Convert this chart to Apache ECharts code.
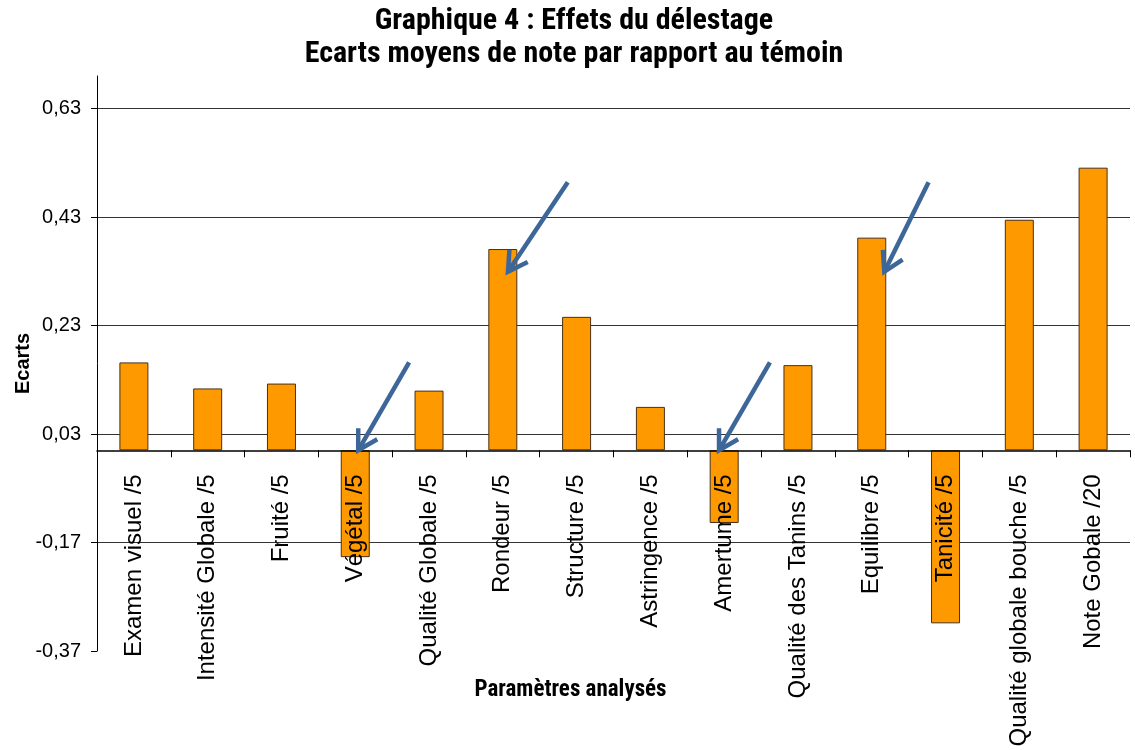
<!DOCTYPE html>
<html>
<head>
<meta charset="utf-8">
<script src="https://cdn.jsdelivr.net/npm/echarts@6/dist/echarts.min.js"></script>
<style>
html,body{margin:0;padding:0;background:#fff;}
#chart{width:1135px;height:750px;}
</style>
</head>
<body>
<div id="chart"></div>
<script>
const titleLines = ['Graphique 4 : Effets du délestage', 'Ecarts moyens de note par rapport au témoin'];
const yAxisName = 'Ecarts';
const xAxisName = 'Paramètres analysés';
const categories = ['Examen visuel /5', 'Intensité Globale /5', 'Fruité /5', 'Végétal /5', 'Qualité Globale /5',
  'Rondeur /5', 'Structure /5', 'Astringence /5', 'Amertume /5', 'Qualité des Tanins /5', 'Equilibre /5',
  'Tanicité /5', 'Qualité globale bouche /5', 'Note Gobale /20'];
const ecarts = [0.162, 0.114, 0.123, -0.197, 0.110, 0.371, 0.246, 0.080, -0.134, 0.157, 0.392, -0.319, 0.425, 0.521];
const yTicks = [-0.37, -0.17, 0.03, 0.23, 0.43, 0.63];
const yMax = 0.69;
// annotation arrows: [categoryPosition, value] for tail and tip
const arrowTails = [[5.88, 0.494], [10.77, 0.494], [3.73, 0.162], [8.62, 0.162]];
const arrowTips = [[5.07, 0.329], [10.17, 0.329], [3.04, 0.0], [7.93, 0.0]];

const arrowData = arrowTails.map((t, i) => [t[0], t[1], arrowTips[i][0], arrowTips[i][1]]);
const fmt = v => (Math.round(v * 100) / 100).toFixed(2).replace('.', ',');

const gridTop = 76, gridBottom = 99, H = 750;
const gridH = H - gridTop - gridBottom;
const yMin = yTicks[0];
// move the category axis up from the grid bottom to the zero line
const zeroOffset = -gridH * (0 - yMin) / (yMax - yMin);

const chart = echarts.init(document.getElementById('chart'));
const arrowColor = '#3D6699';
chart.setOption({
  animation: false,
  backgroundColor: '#ffffff',
  title: {
    text: titleLines.join('\n'),
    left: 569, top: 0, textAlign: 'center',
    textStyle: {
      fontFamily: '"Liberation Sans Narrow", "Roboto Condensed", "Arial Narrow", sans-serif',
      fontWeight: 'bold', fontSize: 30, lineHeight: 33, color: '#000'
    }
  },
  grid: { left: 97, right: 5, top: gridTop, bottom: gridBottom, containLabel: false, outerBoundsMode: 'none' },
  xAxis: [{
    type: 'category',
    data: categories,
    z: 3,
    offset: zeroOffset,
    name: xAxisName,
    nameLocation: 'middle',
    nameGap: 228,
    nameMoveOverlap: false,
    nameTextStyle: {
      fontFamily: '"Liberation Sans Narrow", "Roboto Condensed", "Arial Narrow", sans-serif',
      fontWeight: 'bold', fontSize: 23, color: '#000', padding: [0, 86, 0, 0]
    },
    axisLine: { onZero: false, lineStyle: { color: '#000', width: 1.5 } },
    axisTick: { show: true, length: 7, lineStyle: { color: '#000' } },
    axisLabel: {
      rotate: 90, interval: 0, margin: 24,
      fontFamily: '"Liberation Sans", Arial, sans-serif', fontSize: 24, color: '#000'
    },
    splitLine: { show: false }
  }, {
    type: 'value', min: -0.5, max: 13.5, show: false
  }],
  yAxis: {
    type: 'value',
    min: yMin, max: yMax, interval: 0.2,
    name: yAxisName,
    nameLocation: 'middle',
    nameGap: 64,
    nameMoveOverlap: false,
    nameTextStyle: { fontFamily: '"Liberation Sans", Arial, sans-serif', fontWeight: 'bold', fontSize: 20, color: '#000' },
    axisLine: { show: true, onZero: false, lineStyle: { color: '#000', width: 1 } },
    axisTick: { show: true, length: 6, lineStyle: { color: '#000' } },
    axisLabel: {
      margin: 16, showMaxLabel: false,
      fontFamily: '"Liberation Sans", Arial, sans-serif', fontSize: 20, color: '#000',
      formatter: v => (v > 0.65 ? '' : fmt(v))
    },
    splitLine: { show: true, showMinLine: false, showMaxLine: false, lineStyle: { color: '#333', width: 1.2 } }
  },
  series: [{
    type: 'bar',
    data: ecarts,
    barWidth: 29,
    z: 2,
    itemStyle: { color: '#FF9900', borderColor: '#4a3015', borderWidth: 1 }
  }, {
    type: 'custom',
    xAxisIndex: 1,
    yAxisIndex: 0,
    z: 10,
    data: arrowData,
    renderItem: function (params, api) {
      const p0 = api.coord([api.value(0), api.value(1)]);
      const p1 = api.coord([api.value(2), api.value(3)]);
      const ang = Math.atan2(p0[1] - p1[1], p0[0] - p1[0]);
      const L = 22, a = Math.PI / 6;
      const w1 = [p1[0] + L * Math.cos(ang + a), p1[1] + L * Math.sin(ang + a)];
      const w2 = [p1[0] + L * Math.cos(ang - a), p1[1] + L * Math.sin(ang - a)];
      return {
        type: 'group',
        children: [
          { type: 'line', shape: { x1: p0[0], y1: p0[1], x2: p1[0], y2: p1[1] },
            style: { stroke: arrowColor, lineWidth: 4.5 } },
          { type: 'polyline', shape: { points: [w1, p1, w2] },
            style: { stroke: arrowColor, lineWidth: 4.5, fill: null, lineJoin: 'miter' } }
        ]
      };
    }
  }]
});
</script>
</body>
</html>
